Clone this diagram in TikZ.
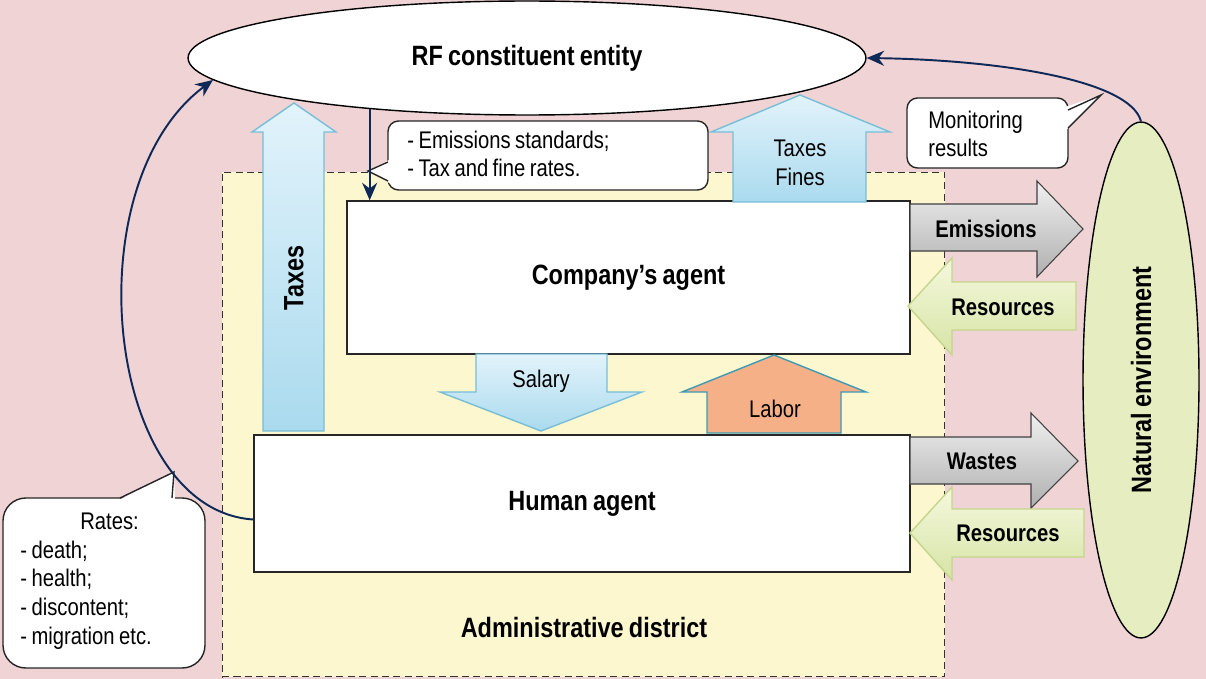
\documentclass[tikz,border=0pt]{standalone}
\usepackage{fontspec}
\setmainfont[FakeStretch=0.84, WordSpace=0.8]{Liberation Sans}
\usepackage{tikz}
\usetikzlibrary{shapes.geometric, arrows.meta, calc}
\definecolor{bgpink}{RGB}{240,211,213}
\definecolor{districtyellow}{RGB}{252,247,206}
\definecolor{navy}{RGB}{14,40,88}
\definecolor{skytop}{RGB}{226,243,251}
\definecolor{skybottom}{RGB}{170,218,238}
\definecolor{skyedge}{RGB}{120,190,215}
\definecolor{greytop}{RGB}{240,240,240}
\definecolor{greybottom}{RGB}{175,175,175}
\definecolor{leaftop}{RGB}{245,248,222}
\definecolor{leafbottom}{RGB}{214,228,165}
\definecolor{leafedge}{RGB}{196,214,140}
\definecolor{laborfill}{RGB}{246,176,136}
\definecolor{laboredge}{RGB}{60,155,180}
\definecolor{naturefill}{RGB}{230,237,192}
\newcommand{\headfont}{\fontsize{15.9}{18}\selectfont\bfseries}
\newcommand{\notefont}{\fontsize{13.7}{16.3}\selectfont}
\tikzset{
    agentbox/.style={rectangle, draw=black!85, thick, fill=white, font=\headfont},
    entity/.style={ellipse, draw=black, thick, fill=white, font=\headfont},
    district/.style={rectangle, draw=black!80, dash pattern=on 4pt off 2.5pt,
                     line width=0.6pt, fill=districtyellow},
    flow/.style={-{Stealth[length=3.5mm, width=3mm]}, draw=navy, line width=1.1pt},
    noteshape/.style={draw=black!85, thick, fill=white, rounded corners=6pt},
    notetail/.style={draw=black!85, thick, line join=miter},
    notetext/.style={font=\notefont, align=left, inner sep=0pt, anchor=west},
    moneyarrow/.style={draw=skyedge, line width=0.8pt, top color=skytop, bottom color=skybottom},
    outarrow/.style={draw=black!75, line width=0.6pt, top color=greytop, bottom color=greybottom},
    inarrow/.style={draw=leafedge, line width=0.8pt, top color=leaftop, bottom color=leafbottom},
    laborarrow/.style={draw=laboredge, line width=0.8pt, fill=laborfill},
    arrowlbl/.style={font=\notefont, align=center},
    arrowbold/.style={font=\notefont\bfseries},
}
\begin{document}
\begin{tikzpicture}[x=0.02cm, y=-0.02cm]
    \useasboundingbox (0,0) rectangle (1206,679);
    \fill[bgpink] (0,0) rectangle (1206,679);

    % district and the two agents
    \node[district, minimum width=14.46cm, minimum height=10.1cm] (district) at (583.5,424.5) {};
    \node[font=\headfont] (districtlbl) at (584,628) {Administrative district};
    \node[agentbox, minimum width=11.26cm, minimum height=3.06cm] (company) at (628.5,277.5) {Company’s agent};
    \node[agentbox, minimum width=13.12cm, minimum height=2.74cm] (human) at (582,503.5) {Human agent};

    % block arrows
    \draw[moneyarrow] (263,431) -- (263,132) -- (252,132) -- (294,103) -- (336,132) -- (324,132) -- (324,431) -- cycle;
    \node[font=\headfont, rotate=90] (taxesup) at (294,278) {Taxes};
    \draw[moneyarrow] (733,202) -- (733,132) -- (711,132) -- (800,95) -- (890,132) -- (866,132) -- (866,202) -- cycle;
    \node[arrowlbl] (finesup) at (800,163) {Taxes\\Fines};
    \draw[moneyarrow] (476,354) -- (476,392) -- (440,392) -- (541,431) -- (642,392) -- (607,392) -- (607,354) -- cycle;
    \node[arrowlbl] (salary) at (541,381) {Salary};
    \draw[laborarrow] (707,433) -- (707,392) -- (682,392) -- (774,355) -- (866,392) -- (841,392) -- (841,433) -- cycle;
    \node[arrowlbl] (labor) at (775,409) {Labor};
    \draw[outarrow] (910,204) -- (1037,204) -- (1037,181) -- (1083,229) -- (1037,277) -- (1037,251) -- (910,251) -- cycle;
    \node[arrowbold] (emissions) at (986,229) {Emissions};
    \draw[inarrow] (1076,282) -- (952,282) -- (952,258) -- (908,306) -- (952,355) -- (952,330) -- (1076,330) -- cycle;
    \node[arrowbold] (resupper) at (1003,307) {Resources};
    \draw[outarrow] (910,437) -- (1031,437) -- (1031,413) -- (1078,461) -- (1031,508) -- (1031,484) -- (910,484) -- cycle;
    \node[arrowbold] (wastes) at (982,461) {Wastes};
    \draw[inarrow] (1084,509) -- (952,509) -- (952,487) -- (910,533) -- (952,580) -- (952,557) -- (1084,557) -- cycle;
    \node[arrowbold] (reslower) at (1008,533) {Resources};

    % outer entities
    \node[entity, minimum width=13.56cm, minimum height=2.28cm] (rf) at (527,58) {RF constituent entity};
    \node[entity, fill=naturefill, rotate=90, minimum width=10.32cm, minimum height=2.32cm] (nature) at (1141,380) {Natural environment};

    % callouts: rounded body, then a white wedge and the tail edges
    \draw[noteshape] (388,121) rectangle (708,190);
    \fill[white] (368,171) -- (391,159) -- (391,184) -- cycle;
    \draw[notetail] (388,162) -- (368,171) -- (388,181);
    \node[notetext] (standards) at (407,154) {- Emissions standards;\\- Tax and fine rates.};
    \draw[noteshape] (907,98) rectangle (1068,168);
    \fill[white] (1101,95) -- (1065,107) -- (1065,131) -- cycle;
    \draw[notetail] (1068,110) -- (1101,95) -- (1068,128);
    \node[notetext] (monitoring) at (928,134) {Monitoring\\results};
    \draw[noteshape, rounded corners=13pt] (3,498) rectangle (205,668);
    \fill[white] (174,472) -- (117,501) -- (175,501) -- cycle;
    \draw[notetail] (120,498) -- (174,472) -- (172,498);
    \node[notetext] (rates) at (20,581) {\hspace*{1.2cm}Rates:\\- death;\\- health;\\- discontent;\\- migration etc.};

    % thin connectors
    \draw[flow] (rf.198) -- (rf.198 |- company.north);
    \draw[flow] ($(human.west)+(0,16)$) .. controls (105,510) and (72,185) .. (rf.184);
    \draw[flow] (nature.east) .. controls (1130,80) and (1000,60) .. (rf.east);
\end{tikzpicture}
\end{document}
